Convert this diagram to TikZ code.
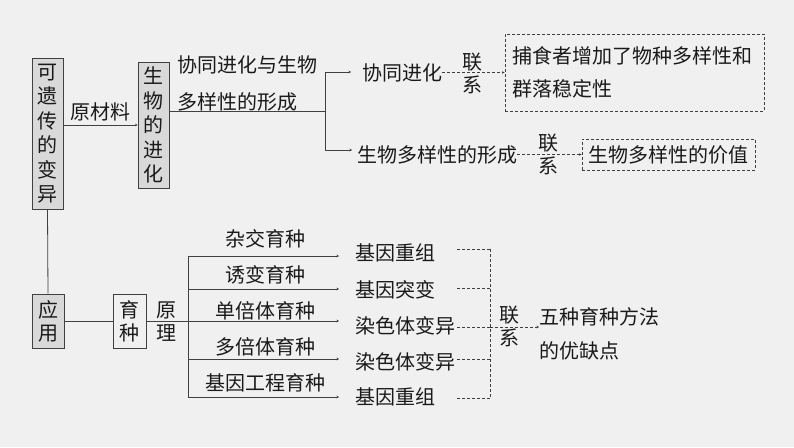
\documentclass[tikz,border=0pt]{standalone}
\usepackage{fontspec}
\setmainfont{Noto Sans CJK SC}
\usetikzlibrary{arrows.meta}
\definecolor{bgc}{HTML}{F0F0F0}
\definecolor{boxgray}{HTML}{D9D9D9}
\definecolor{linec}{HTML}{404040}
\definecolor{txtc}{HTML}{1A1A1A}
\tikzset{
  txt/.style={inner sep=0pt, text=txtc, font=\fontsize{20}{23}\selectfont, align=center},
  graybox/.style={draw=linec, line width=0.9pt, fill=boxgray, inner sep=0pt, text=txtc, align=center},
  plainbox/.style={draw=linec, line width=0.9pt, fill=bgc, inner sep=0pt, text=txtc, align=center},
  dashbox/.style={draw=linec, line width=0.8pt, dash pattern=on 3pt off 2pt, inner sep=0pt, text=txtc},
  ln/.style={draw=linec, line width=0.8pt},
  arr/.style={ln, -{Stealth[length=2.5pt,width=2.5pt]}},
  dln/.style={draw=linec, line width=0.7pt, dash pattern=on 3pt off 2pt},
  darr/.style={dln, -{Stealth[length=2.5pt,width=2.5pt]}},
}
\begin{document}
\begin{tikzpicture}[x=1pt,y=-1pt]
\fill[bgc] (0,0) rectangle (794,447);
\useasboundingbox (0,0) rectangle (794,447);

% left column
\node[graybox, minimum width=31pt, minimum height=151pt, font=\fontsize{20}{24.5}\selectfont] (bianyi) at (47.5,133.5) {可\\遗\\传\\的\\变\\异};
\node[graybox, minimum width=31pt, minimum height=126pt, font=\fontsize{20}{24.5}\selectfont] (jinhua) at (153.5,125) {生\\物\\的\\进\\化};
\node[graybox, minimum width=32pt, minimum height=54pt, font=\fontsize{20}{23}\selectfont] (yingyong) at (48,321) {应\\用};
\node[plainbox, minimum width=33pt, minimum height=54pt, font=\fontsize{20}{23}\selectfont] (yuzhong) at (129.5,321) {育\\种};

\draw[ln] (bianyi.south) -- (yingyong.north);
\draw[arr] (bianyi.east |- jinhua.west) -- (jinhua.west);
\node[txt] (ycl) at (100,112) {原材料};

% upper branch
\coordinate (b1) at (325,111);
\draw[ln] (jinhua.east |- b1) -- (b1);
\node[txt, anchor=west] (t1) at (177,65) {协同进化与生物};
\node[txt, anchor=west] (t2) at (177,102) {多样性的形成};
\coordinate (b1t) at (325,72);
\coordinate (b1b) at (325,150);
\draw[ln] (b1t) -- (b1b);
\node[txt, anchor=west] (xt) at (362,73) {协同进化};
\node[txt, anchor=west] (dyx) at (357,155) {生物多样性的形成};
\coordinate (a1) at (351,72);
\coordinate (a2) at (352,150);
\draw[arr] (b1t) -- (a1);
\draw[arr] (b1b) -- (a2);

\node[dashbox, minimum width=259pt, minimum height=77pt, text width=245pt, align=left, font=\fontsize{20}{33}\selectfont] (box1) at (634.5,72.5) {捕食者增加了物种多样性和\\群落稳定性};
\draw[darr] (xt.east |- box1.west) -- (box1.west);
\node[txt] (lx1) at (472,73.5) {联\\系};

\node[dashbox, minimum width=173pt, minimum height=31pt, align=center, font=\fontsize{20}{23}\selectfont] (box2) at (668.5,154.5) {生物多样性的价值};
\draw[darr] (dyx.east |- box2.west) -- (box2.west);
\node[txt] (lx2) at (548,154.5) {联\\系};

% lower branch
\coordinate (v0) at (188,321);
\draw[ln] (yingyong.east) -- (yuzhong.west);
\draw[ln] (yuzhong.east) -- (v0);
\node[txt] (yl) at (166,321.5) {原\\理};
\coordinate (vt) at (188,256);
\coordinate (vb) at (188,397);
\draw[ln] (vt) -- (vb);

\coordinate (h1) at (188,256); \coordinate (e1) at (339,256);
\coordinate (h2) at (188,289); \coordinate (e2) at (339,289);
\coordinate (h3) at (188,321); \coordinate (e3) at (339,321);
\coordinate (h4) at (188,359); \coordinate (e4) at (339,359);
\coordinate (h5) at (188,397); \coordinate (e5) at (339,397);
\foreach \i in {1,...,5} { \draw[arr] (h\i) -- (e\i); }

\node[txt] (m1) at (265,239) {杂交育种};
\node[txt] (m2) at (265,275) {诱变育种};
\node[txt] (m3) at (265,311) {单倍体育种};
\node[txt] (m4) at (265,347) {多倍体育种};
\node[txt] (m5) at (265,383) {基因工程育种};

\node[txt, anchor=west] (r1) at (355,253) {基因重组};
\node[txt, anchor=west] (r2) at (355,290) {基因突变};
\node[txt, anchor=west] (r3) at (355,326) {染色体变异};
\node[txt, anchor=west] (r4) at (355,362) {染色体变异};
\node[txt, anchor=west] (r5) at (355,397) {基因重组};

\coordinate (d1) at (457,249); \coordinate (k1) at (490,249);
\coordinate (d2) at (457,288); \coordinate (k2) at (490,288);
\coordinate (d3) at (457,327); \coordinate (k3) at (490,327);
\coordinate (d4) at (457,359); \coordinate (k4) at (490,359);
\coordinate (d5) at (457,398); \coordinate (k5) at (490,398);
\foreach \i in {1,...,5} { \draw[dln] (d\i) -- (k\i); }
\draw[dln] (k1) -- (k5);
\node[txt] (lx3) at (509,326.5) {联\\系};
\node[txt, anchor=west, align=left, font=\fontsize{20}{34}\selectfont] (yqd) at (539,334) {五种育种方法\\的优缺点};
\draw[darr] (k3) -- (yqd.west |- k3);
\end{tikzpicture}
\end{document}
